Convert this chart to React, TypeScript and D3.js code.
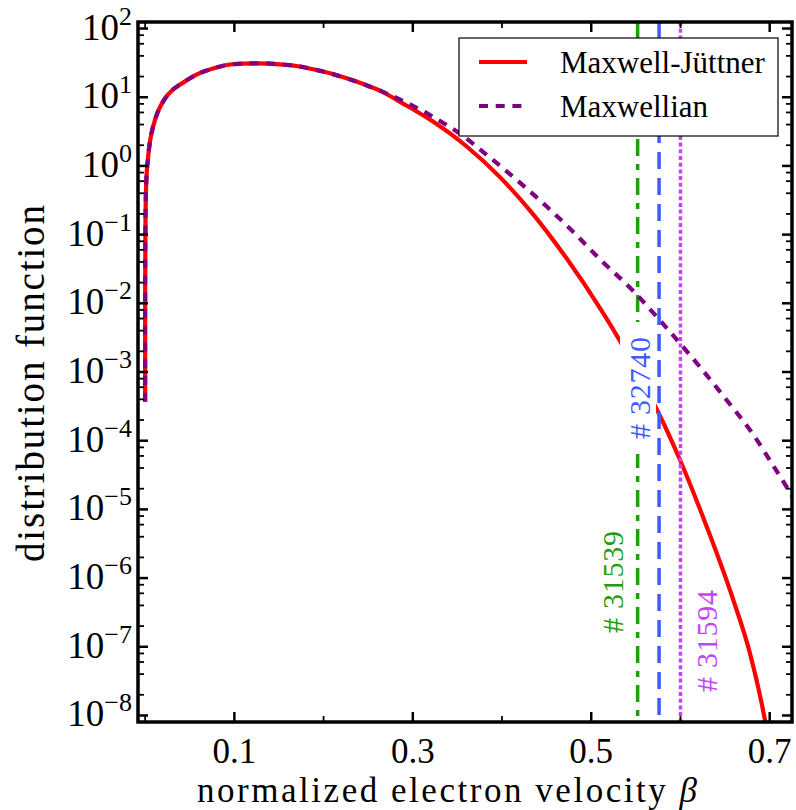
import React from "react";
import * as d3 from "d3";

const WIDTH = 796;
const HEIGHT = 810;
const FONT = "'Liberation Serif', 'DejaVu Serif', 'Times New Roman', serif";

// ---- data ----
const maxwellianBeta = [1e-6, 5e-6, 4e-5, 4e-4, 0.0013, 0.0032, 0.0051, 0.0088, 0.0144, 0.0219, 0.0312, 0.0391, 0.0443, 0.0576, 0.0764, 0.0951, 0.125, 0.1512, 0.1699, 0.1885, 0.2072, 0.2259, 0.2445, 0.2632, 0.282, 0.3006, 0.3193, 0.338, 0.3566, 0.379, 0.4258, 0.4501, 0.4762, 0.5098, 0.5471, 0.5734, 0.5883, 0.6219, 0.6519, 0.6817, 0.7041, 0.7228, 0.734];
const maxwellianF = [3.69e-4, 1.87e-3, 0.0174, 0.163, 0.603, 1.28, 2.12, 3.68, 6.19, 9.42, 12.94, 15.28, 16.88, 21.32, 26.18, 29.92, 31.19, 30.16, 28.47, 25.48, 22.28, 18.84, 15.56, 12.45, 9.75, 7.43, 5.5, 3.93, 2.72, 1.59, 0.491, 0.256, 0.122, 0.0437, 0.0151, 6.38e-3, 3.85e-3, 1.18e-3, 3.88e-4, 1.22e-4, 4.31e-5, 1.76e-5, 1.0e-5];

const juttnerBeta = [1e-6, 5e-6, 4e-5, 4e-4, 0.0013, 0.0032, 0.0051, 0.0088, 0.0144, 0.0219, 0.0312, 0.0391, 0.0443, 0.0576, 0.0764, 0.0951, 0.125, 0.1512, 0.1699, 0.1885, 0.2072, 0.2259, 0.2445, 0.2632, 0.2745, 0.2857, 0.3226, 0.3604, 0.3977, 0.4347, 0.4725, 0.5101, 0.5322, 0.55, 0.5734, 0.5995, 0.6294, 0.6592, 0.6779, 0.6947, 0.7];
const juttnerF = [3.69e-4, 1.87e-3, 0.0174, 0.163, 0.603, 1.28, 2.12, 3.68, 6.19, 9.42, 12.94, 15.28, 16.88, 21.32, 26.18, 29.92, 31.19, 30.16, 28.47, 25.48, 22.28, 18.84, 15.56, 12.45, 10.42, 8.57, 4.42, 1.917, 0.687, 0.1987, 0.0448, 8.39e-3, 2.83e-3, 1.05e-3, 2.87e-4, 5.24e-5, 5.6e-6, 4.8e-7, 8.02e-8, 8.59e-9, 3.5e-9];

const shotIds = ["31539", "32740", "31594"];
const shotBeta = [0.552, 0.576, 0.6];
const shotLabelBeta = [0.5356, 0.5659, 0.641];
const shotLabelF = [8.75e-7, 5.85e-4, 1.21e-7];
const shotColors = ["#1f9e0b", "#3d5cff", "#bf45ff"];
const shotDash = ["17,8,6,8", "17,9", "4,2.7"];
const shotLabelBox = [false, true, false];

const seriesNames = ["Maxwell-Jüttner", "Maxwellian"];
const seriesColors = ["#ff0000", "#800080"];
const seriesDash = ["none", "9,7.7"];

const xMajorTicks = [0.1, 0.3, 0.5, 0.7];
const xMinorTicks = [0.0, 0.2, 0.4, 0.6];
const yExponents = [2, 1, 0, -1, -2, -3, -4, -5, -6, -7, -8];
const yMinorSubs = [2, 4, 6, 8];

const xDomain = [-0.008, 0.725];
const yDomain = [Math.pow(10, -8.095), Math.pow(10, 2.095)];

const PLOT = { left: 138, right: 792, top: 22, bottom: 722 };

export default function App() {
  const x = d3.scaleLinear().domain(xDomain).range([PLOT.left, PLOT.right]);
  const y = d3.scaleLog().domain(yDomain).range([PLOT.bottom, PLOT.top]);

  const line = d3
    .line<[number, number]>()
    .x((d) => x(d[0]))
    .y((d) => y(d[1]))
    .curve(d3.curveMonotoneX);

  const juttner: [number, number][] = juttnerBeta.map((b, i) => [b, juttnerF[i]]);
  const maxwellian: [number, number][] = maxwellianBeta.map((b, i) => [b, maxwellianF[i]]);

  const yMinor: number[] = [];
  for (let e = -9; e <= 2; e++) {
    for (const s of yMinorSubs) {
      const v = s * Math.pow(10, e);
      if (v > yDomain[0] && v < yDomain[1]) yMinor.push(v);
    }
  }

  const expLabel = (e: number) => (e < 0 ? "\u2212" + Math.abs(e) : String(e));

  const majorLen = 10;
  const minorLen = 6;

  const legend = { x: 459, y: 38, w: 319, h: 98 };

  const labelEls = shotIds.map((id, i) => {
    const lx = x(shotLabelBeta[i]);
    const ly = y(shotLabelF[i]);
    return (
      <g key={"lab" + i}>
        {shotLabelBox[i] && (
          <rect x={lx - 30} y={ly - 66} width={36} height={132} fill="white" />
        )}
        <text
          transform={`translate(${lx},${ly}) rotate(-90)`}
          textAnchor="middle"
          style={{ fontFamily: FONT }}
          fontSize={30}
          textLength={102}
          lengthAdjust="spacing"
          fill={shotColors[i]}
        >
          {"# " + id}
        </text>
      </g>
    );
  });

  const vline = (i: number) => (
    <line
      key={"v" + i}
      x1={x(shotBeta[i])}
      x2={x(shotBeta[i])}
      y1={PLOT.top}
      y2={PLOT.bottom}
      stroke={shotColors[i]}
      strokeWidth={3.5}
      strokeDasharray={shotDash[i]}
    />
  );

  return (
    <svg
      width={WIDTH}
      height={HEIGHT}
      style={{ position: "absolute", left: 0, top: 0, background: "white" }}
    >
      <defs>
        <clipPath id="plotclip">
          <rect x={PLOT.left} y={PLOT.top} width={PLOT.right - PLOT.left} height={PLOT.bottom - PLOT.top} />
        </clipPath>
      </defs>
      <rect x={0} y={0} width={WIDTH} height={HEIGHT} fill="white" />

      <g clipPath="url(#plotclip)">
        {vline(0)}
        <path d={line(juttner) || ""} fill="none" stroke={seriesColors[0]} strokeWidth={4.2} />
        {labelEls[1]}
        <path
          d={line(maxwellian) || ""}
          fill="none"
          stroke={seriesColors[1]}
          strokeWidth={4.2}
          strokeDasharray={seriesDash[1]}
        />
        {vline(1)}
        {vline(2)}
        {labelEls[0]}
        {labelEls[2]}
      </g>

      {/* ticks */}
      <g stroke="black">
        {yExponents.map((e) => {
          const yy = y(Math.pow(10, e));
          return (
            <g key={"ymaj" + e} strokeWidth={2.5}>
              <line x1={PLOT.left} x2={PLOT.left + majorLen} y1={yy} y2={yy} />
              <line x1={PLOT.right} x2={PLOT.right - majorLen} y1={yy} y2={yy} />
            </g>
          );
        })}
        {yMinor.map((v, i) => {
          const yy = y(v);
          return (
            <g key={"ymin" + i} strokeWidth={1.8}>
              <line x1={PLOT.left} x2={PLOT.left + minorLen} y1={yy} y2={yy} />
              <line x1={PLOT.right} x2={PLOT.right - minorLen} y1={yy} y2={yy} />
            </g>
          );
        })}
        {xMajorTicks.map((t) => {
          const xx = x(t);
          return (
            <g key={"xmaj" + t} strokeWidth={2.5}>
              <line x1={xx} x2={xx} y1={PLOT.bottom} y2={PLOT.bottom - majorLen} />
              <line x1={xx} x2={xx} y1={PLOT.top} y2={PLOT.top + majorLen} />
            </g>
          );
        })}
        {xMinorTicks.map((t) => {
          const xx = x(t);
          return (
            <g key={"xmin" + t} strokeWidth={1.8}>
              <line x1={xx} x2={xx} y1={PLOT.bottom} y2={PLOT.bottom - minorLen} />
              <line x1={xx} x2={xx} y1={PLOT.top} y2={PLOT.top + minorLen} />
            </g>
          );
        })}
      </g>

      {/* spines */}
      <rect
        x={PLOT.left}
        y={PLOT.top}
        width={PLOT.right - PLOT.left}
        height={PLOT.bottom - PLOT.top}
        fill="none"
        stroke="black"
        strokeWidth={3.5}
      />

      {/* tick labels */}
      {yExponents.map((e) => {
        const yy = y(Math.pow(10, e));
        return (
          <text key={"yl" + e} x={132} y={yy + 11} textAnchor="end" style={{ fontFamily: FONT }} fontSize={37} fill="black">
            <tspan>10</tspan>
            <tspan dy={-15} fontSize={26}>
              {expLabel(e)}
            </tspan>
          </text>
        );
      })}
      {xMajorTicks.map((t) => (
        <text key={"xl" + t} x={x(t)} y={763} textAnchor="middle" style={{ fontFamily: FONT }} fontSize={35} fill="black">
          {t.toFixed(1)}
        </text>
      ))}

      {/* axis titles */}
      <text x={197} y={802} style={{ fontFamily: FONT }} fontSize={35} textLength={500} lengthAdjust="spacing" fill="black">
        normalized electron velocity <tspan fontStyle="italic">β</tspan>
      </text>
      <text
        transform={`translate(44, 383.5) rotate(-90)`}
        textAnchor="middle"
        style={{ fontFamily: FONT }}
        fontSize={39}
        textLength={357}
        lengthAdjust="spacing"
        fill="black"
      >
        distribution function
      </text>

      {/* legend */}
      <g>
        <rect x={legend.x} y={legend.y} width={legend.w} height={legend.h} fill="white" stroke="black" strokeWidth={1.2} />
        {seriesNames.map((name, i) => {
          const ry = legend.y + 24 + i * 44;
          return (
            <g key={"leg" + i}>
              <line
                x1={legend.x + 20}
                x2={legend.x + 68}
                y1={ry}
                y2={ry}
                stroke={seriesColors[i]}
                strokeWidth={4.2}
                strokeDasharray={seriesDash[i]}
              />
              <text x={legend.x + 101} y={ry + 11} style={{ fontFamily: FONT }} fontSize={31} fill="black">
                {name}
              </text>
            </g>
          );
        })}
      </g>
    </svg>
  );
}
